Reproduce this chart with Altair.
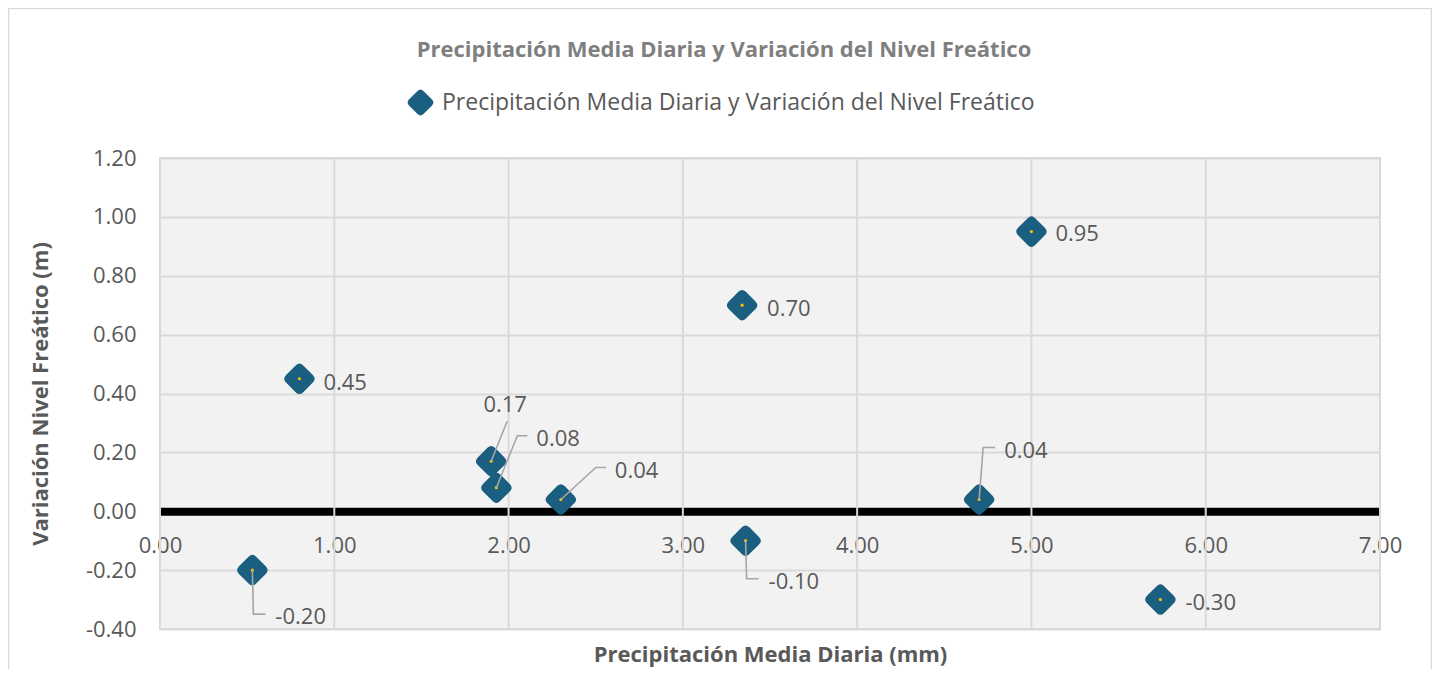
import altair as alt
import pandas as pd

# ---- data ----
precip = [0.53, 0.80, 1.90, 1.93, 2.30, 3.34, 3.36, 4.70, 5.00, 5.74]
nivel = [-0.20, 0.45, 0.17, 0.08, 0.04, 0.70, -0.10, 0.04, 0.95, -0.30]
label_text = ["-0.20", "0.45", "0.17", "0.08", "0.04", "0.70", "-0.10", "0.04", "0.95", "-0.30"]
x_ticks = [0, 1, 2, 3, 4, 5, 6, 7]
y_ticks = [-0.4, -0.2, 0.0, 0.2, 0.4, 0.6, 0.8, 1.0, 1.2]
serie = "Precipitación Media Diaria y Variación del Nivel Freático"

# ---- style: label offsets (pixels) and leader line bends (pixels) ----
label_dx = [23, 24, 14, 40, 54, 25, 23, 25, 24, 25]
label_dy = [47, 4, -56, -49, -28, 4, 41, -48, 2, 3]
label_align = ["left", "left", "center", "left", "left", "left", "left", "left", "left", "left"]
leaders = {
    0: [(0, 0), (1, 44), (13, 44)],
    2: [(0, 0), (16, -40)],
    3: [(0, 0), (21, -52), (31, -52)],
    4: [(0, 0), (35, -32), (45, -32)],
    6: [(0, 0), (1, 38), (13, 38)],
    7: [(0, 0), (4, -52), (16, -52)],
}

W, H = 1220, 471
XMIN, XMAX, YMIN, YMAX = 0, 7, -0.4, 1.2
px_x = W / (XMAX - XMIN)
px_y = H / (YMAX - YMIN)

FONT = "Open Sans"
TXT = "#595959"
COL = "#1a5f80"
GRID = "#d9d9d9"
FS = 22
LBL = "replace(format(datum.value, '.2f'), '\u2212', '-')"
shape = ("M -0.22,-0.78 Q 0,-1 0.22,-0.78 L 0.78,-0.22 Q 1,0 0.78,0.22 "
         "L 0.22,0.78 Q 0,1 -0.22,0.78 L -0.78,0.22 Q -1,0 -0.78,-0.22 Z")

pts = pd.DataFrame({"x": precip, "y": nivel, "serie": serie})
lab = pd.DataFrame({
    "x": [p + dx / px_x for p, dx in zip(precip, label_dx)],
    "y": [v - dy / px_y for v, dy in zip(nivel, label_dy)],
    "t": label_text,
    "a": label_align,
})
rows = []
for i, seg in leaders.items():
    for k, (dx, dy) in enumerate(seg):
        rows.append({"id": i, "k": k, "x": precip[i] + dx / px_x, "y": nivel[i] - dy / px_y})
lead = pd.DataFrame(rows)

xscale = alt.Scale(domain=[XMIN, XMAX], nice=False, zero=False)
yscale = alt.Scale(domain=[YMIN, YMAX], nice=False, zero=False)
zero_offset = -(H - (YMAX - 0) * px_y)

x_axis = alt.Axis(
    values=x_ticks, labelExpr=LBL, offset=zero_offset, grid=False, ticks=False,
    domain=True, domainColor="black", domainWidth=8, labelFlush=False,
    labelPadding=24, labelFont=FONT, labelFontSize=FS, labelColor=TXT,
    title="Precipitación Media Diaria (mm)", titleFont=FONT, titleFontSize=22,
    titleFontWeight="bold", titleColor=TXT, titleY=143, titleBaseline="middle",
)
y_axis = alt.Axis(
    values=y_ticks, labelExpr=LBL, grid=True, gridColor=GRID, gridWidth=2,
    domain=False, ticks=False, labelPadding=24, labelFont=FONT, labelFontSize=FS,
    labelColor=TXT, labelFlush=False,
    title="Variación Nivel Freático (m)", titleFont=FONT, titleFontSize=22,
    titleFontWeight="bold", titleColor=TXT, titleX=-120, titleY=H / 2,
    titleAlign="center", titleBaseline="middle", titleAngle=270,
)


def X():
    return alt.X("x:Q", scale=xscale, axis=x_axis)


def Y():
    return alt.Y("y:Q", scale=yscale, axis=y_axis)


# outer chart frame (decoration)
frame = alt.Chart(pd.DataFrame({"f": [0]})).mark_rect(
    fill="transparent", stroke=GRID, strokeWidth=1.5
).encode(
    x=alt.value(-151.5), x2=alt.value(W + 51.5),
    y=alt.value(-149.5), y2=alt.value(H + 80),
)

vgrid = alt.Chart(pd.DataFrame({"x": x_ticks})).mark_rule(color=GRID, strokeWidth=2).encode(
    x=X()
)

points = alt.Chart(pts).mark_point(shape=shape, filled=True, size=1180, opacity=1).encode(
    x=X(),
    y=Y(),
    color=alt.Color(
        "serie:N",
        scale=alt.Scale(domain=[serie], range=[COL]),
        legend=alt.Legend(
            title=None, orient="none", legendX=246, legendY=-70,
            symbolType=shape, symbolSize=840, symbolFillColor=COL, symbolStrokeWidth=0,
            labelFont=FONT, labelFontSize=23, labelColor=TXT, labelLimit=800,
            symbolOffset=0, labelOffset=7,
        ),
    ),
)

dots = alt.Chart(pts).mark_circle(size=10, color="#ffc000", opacity=1).encode(x=X(), y=Y())

leader_lines = alt.Chart(lead).mark_line(color="#a6a6a6", strokeWidth=1.6).encode(
    x=X(), y=Y(), detail="id:N", order="k:Q",
)

labels_l = alt.Chart(lab).transform_filter(alt.datum.a == "left").mark_text(
    align="left", baseline="middle", font=FONT, fontSize=FS, color=TXT
).encode(x=X(), y=Y(), text="t:N")
labels_c = alt.Chart(lab).transform_filter(alt.datum.a == "center").mark_text(
    align="center", baseline="middle", font=FONT, fontSize=FS, color=TXT
).encode(x=X(), y=Y(), text="t:N")

chart = alt.layer(frame, vgrid, points, dots, leader_lines, labels_l, labels_c).properties(
    width=W,
    height=H,
    title=alt.TitleParams(
        serie, font=FONT, fontSize=22, fontWeight="bold", color="#7f7f7f",
        anchor="middle", frame="group", dx=-46, offset=-54,
    ),
    autosize=alt.AutoSizeParams(type="none"),
    padding={"left": 152, "top": 150, "right": 52, "bottom": 40},
).configure_view(
    fill="#f2f2f2", stroke=GRID, strokeWidth=2
)

chart.save("out.html", embed_options={"renderer": "svg", "actions": False})
